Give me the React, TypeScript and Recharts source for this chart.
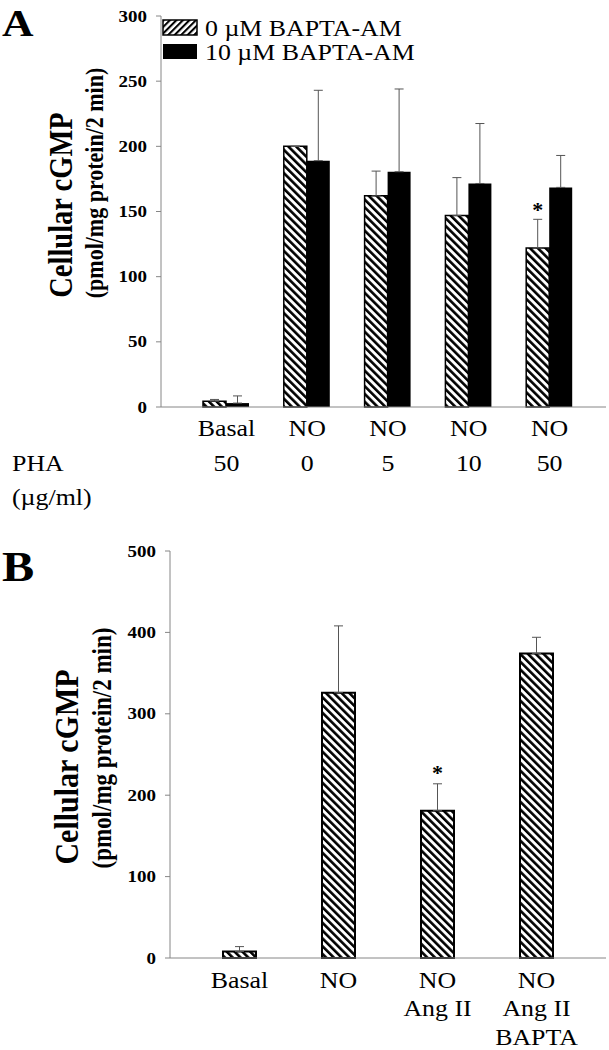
import React from "react"
import { BarChart, Bar, XAxis, YAxis, ErrorBar, LabelList } from "recharts"

const FONT = "'Liberation Serif', 'Times New Roman', serif"
const GREY = "#868686"
const STRETCH = 1.15

// panel A: PHA dose series, with / without BAPTA-AM
const phaGroups = ["Basal", "NO", "NO", "NO", "NO"]
const phaDoses = ["50", "0", "5", "10", "50"]
const bapta0 = [4.5, 200, 162, 147, 122]
const bapta0Err = [1.3, 0, 19, 29, 22]
const bapta10 = [3, 189, 180.5, 171.5, 168.5]
const bapta10Err = [5.5, 54, 63.5, 46, 24.5]
const phaSig = [false, false, false, false, true]
const ticksA = [0, 50, 100, 150, 200, 250, 300]

// panel B: Ang II
const angGroups = [["Basal"], ["NO"], ["NO", "Ang II"], ["NO", "Ang II", "BAPTA"]]
const angValues = [8, 326, 181, 374]
const angErr = [6, 82, 33, 20]
const angSig = [false, false, true, false]
const ticksB = [0, 100, 200, 300, 400, 500]

const dataA = phaGroups.map((g, i) => ({
  id: `a${i}`,
  zero: bapta0[i],
  zeroErr: [0, bapta0Err[i]],
  ten: bapta10[i],
  tenErr: [0, bapta10Err[i]],
}))

const dataB = angGroups.map((g, i) => ({
  id: `b${i}`,
  value: angValues[i],
  err: [0, angErr[i]],
}))

function YTick({ x, y, payload }: any) {
  return (
    <g transform={`translate(${x},${y}) scale(${STRETCH},1)`}>
      <text x={0} y={5.6} textAnchor="end" fontFamily={FONT} fontWeight="bold" fontSize={16.5} fill="#000">
        {payload.value}
      </text>
    </g>
  )
}

function TickA({ x, y, index, payload }: any) {
  const i = index ?? payload.index
  return (
    <g transform={`translate(${x},${y}) scale(${STRETCH},1)`} fontFamily={FONT} fontSize={22.5} fill="#000">
      <text y={29} textAnchor="middle">{phaGroups[i]}</text>
      <text y={64} textAnchor="middle">{phaDoses[i]}</text>
    </g>
  )
}

function TickB({ x, y, index, payload }: any) {
  const i = index ?? payload.index
  return (
    <g transform={`translate(${x},${y}) scale(${STRETCH},1)`} fontFamily={FONT} fontSize={22.5} fill="#000">
      {angGroups[i].map((line, k) => (
        <text key={k} y={30 + k * 28.5} textAnchor="middle">{line}</text>
      ))}
    </g>
  )
}

const starContent = (sig: boolean[], errs: number[], lift: number) => (props: any) => {
  const { x, y, width, height, value, index } = props
  if (!sig[index] || !value) return null
  const top = y - (errs[index] * height) / value
  return (
    <text x={x + width / 2} y={top - lift} textAnchor="middle" fontFamily={FONT} fontWeight="bold" fontSize={22} fill="#000">
      *
    </text>
  )
}

function Txt({ x, y, size, bold, children }: any) {
  return (
    <text transform={`translate(${x},${y}) scale(${STRETCH},1)`} fontFamily={FONT} fontSize={size} fontWeight={bold ? "bold" : "normal"} fill="#000">
      {children}
    </text>
  )
}

function VTxt({ x, y, size, children }: any) {
  return (
    <text transform={`translate(${x},${y}) rotate(-90) scale(1,${STRETCH})`} textAnchor="middle" fontFamily={FONT} fontSize={size} fontWeight="bold" fill="#000">
      {children}
    </text>
  )
}

export default function App() {
  return (
    <div style={{ position: "absolute", left: 0, top: 0, width: 609, height: 1050, background: "#fff" }}>
      <div style={{ position: "absolute", left: 0, top: 0 }}>
        <BarChart width={609} height={530} data={dataA} margin={{ top: 16, right: 3, bottom: 3, left: 0 }} barGap={0} barSize={23}>
          <XAxis dataKey="id" axisLine={{ stroke: GREY }} tickLine={false} tickSize={0} tickMargin={0} tick={<TickA />} height={120} padding={{ left: 25, right: 16 }} interval={0} />
          <XAxis xAxisId="top" orientation="top" dataKey="id" axisLine={{ stroke: GREY }} tick={false} tickLine={false} height={0} />
          <YAxis domain={[0, 300]} ticks={ticksA} axisLine={{ stroke: GREY }} tickLine={{ stroke: GREY }} tickSize={5} tickMargin={9} width={161} tick={<YTick />} interval={0} />
          <YAxis yAxisId="right" orientation="right" domain={[0, 300]} axisLine={{ stroke: GREY }} tick={false} tickLine={false} width={0} />
          <Bar dataKey="zero" fill="url(#hatchBar)" stroke="#000" strokeWidth={1.5} isAnimationActive={false}>
            <ErrorBar dataKey="zeroErr" width={4.5} stroke="#555" strokeWidth={1} direction="y" />
            <LabelList dataKey="zero" content={starContent(phaSig, bapta0Err, 2)} />
          </Bar>
          <Bar dataKey="ten" fill="#000" isAnimationActive={false}>
            <ErrorBar dataKey="tenErr" width={4.5} stroke="#555" strokeWidth={1} direction="y" />
          </Bar>
        </BarChart>
      </div>

      <div style={{ position: "absolute", left: 0, top: 540 }}>
        <BarChart width={609} height={510} data={dataB} margin={{ top: 11, right: 3, bottom: 0, left: 0 }} barSize={33}>
          <XAxis dataKey="id" axisLine={{ stroke: GREY }} tickLine={false} tickSize={0} tickMargin={0} tick={<TickB />} height={92} padding={{ left: 20, right: 20 }} interval={0} />
          <XAxis xAxisId="top" orientation="top" dataKey="id" axisLine={{ stroke: GREY }} tick={false} tickLine={false} height={0} />
          <YAxis domain={[0, 500]} ticks={ticksB} axisLine={{ stroke: GREY }} tickLine={{ stroke: GREY }} tickSize={5} tickMargin={9} width={170} tick={<YTick />} interval={0} />
          <YAxis yAxisId="right" orientation="right" domain={[0, 500]} axisLine={{ stroke: GREY }} tick={false} tickLine={false} width={0} />
          <Bar dataKey="value" fill="url(#hatchBar)" stroke="#000" strokeWidth={2} isAnimationActive={false}>
            <ErrorBar dataKey="err" width={4.5} stroke="#555" strokeWidth={1} direction="y" />
            <LabelList dataKey="value" content={starContent(angSig, angErr, 4)} />
          </Bar>
        </BarChart>
      </div>

      <svg width={609} height={1050} style={{ position: "absolute", left: 0, top: 0, pointerEvents: "none" }}>
        <defs>
          <pattern id="hatchBar" width="5.5" height="5.5" patternUnits="userSpaceOnUse" patternTransform="rotate(-45)">
            <rect width="5.5" height="5.5" fill="#fff" />
            <rect width="2.6" height="5.5" fill="#000" />
          </pattern>
          <pattern id="hatchLegend" width="4.6" height="4.6" patternUnits="userSpaceOnUse" patternTransform="rotate(45)">
            <rect width="4.6" height="4.6" fill="#fff" />
            <rect width="2.1" height="4.6" fill="#000" />
          </pattern>
        </defs>

        <Txt x={2} y={36} size={38} bold>A</Txt>
        <Txt x={2} y={581} size={42} bold>B</Txt>

        {/* legend, panel A */}
        <rect x={163} y={20} width={34} height={15} fill="url(#hatchLegend)" stroke="#000" strokeWidth={1.5} />
        <Txt x={205} y={36} size={22.5}>0 µM BAPTA-AM</Txt>
        <rect x={163} y={44} width={34} height={15} fill="#000" />
        <Txt x={205} y={59.5} size={22.5}>10 µM BAPTA-AM</Txt>

        <Txt x={12} y={471} size={22.5}>PHA</Txt>
        <Txt x={12} y={505} size={22.5}>(µg/ml)</Txt>

        <VTxt x={72} y={205} size={28.5}>Cellular cGMP</VTxt>
        <VTxt x={103} y={183} size={22}>(pmol/mg protein/2 min)</VTxt>
        <VTxt x={78} y={767} size={30}>Cellular cGMP</VTxt>
        <VTxt x={111} y={748} size={23}>(pmol/mg protein/2 min)</VTxt>
      </svg>
    </div>
  )
}
